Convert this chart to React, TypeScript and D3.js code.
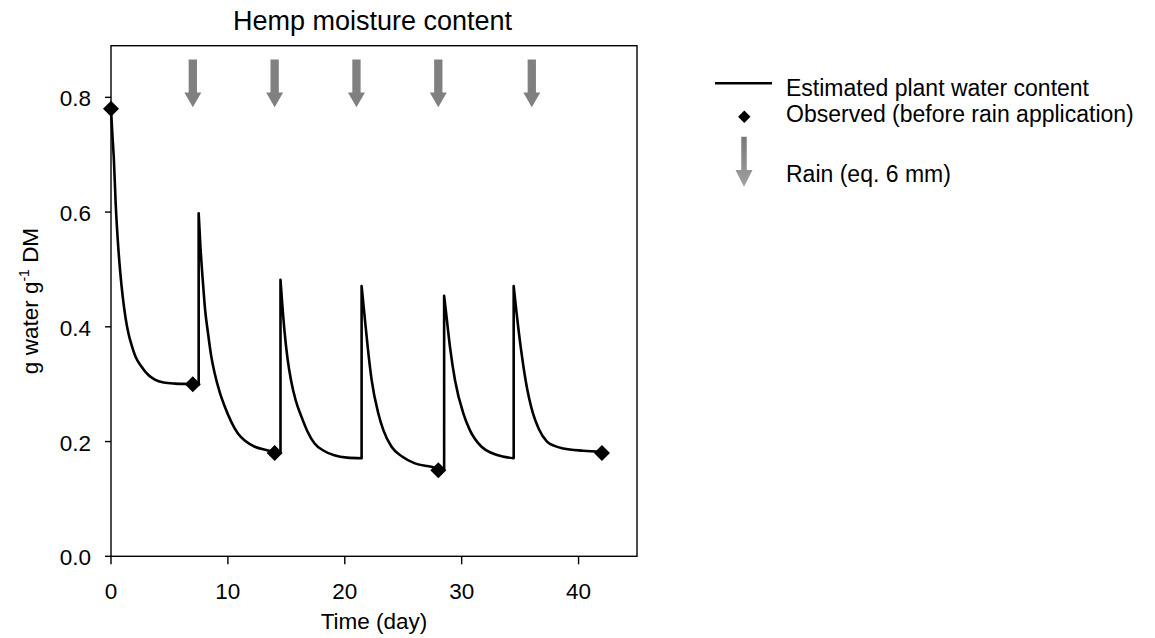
import React from "react";
import * as d3 from "d3";

const curveDays = [
  0, 0.1, 0.25, 0.4, 0.6, 0.8, 1.0, 1.25, 1.5, 1.75, 2.1, 2.6, 3.2, 3.75, 4.5, 5.5, 7.0, 7.5,
  7.5, 7.65, 7.87, 8.05, 8.3, 8.55, 8.87, 9.3, 9.73, 10.3, 10.86, 11.5, 12.3, 13.1, 14.0, 14.5,
  14.5, 14.65, 14.86, 15.1, 15.4, 15.8, 16.3, 16.8, 17.4, 18.2, 19.1, 20.2, 21.44,
  21.44, 21.67, 21.96, 22.3, 22.87, 23.3, 24.0, 24.9, 26.0, 27.4, 28.0, 28.5,
  28.5, 28.72, 29.0, 29.43, 30.14, 30.7, 31.7, 32.57, 33.5, 34.45,
  34.45, 34.7, 35.05, 35.47, 36.1, 36.6, 37.3, 38.0, 38.7, 40.4, 42.0];
const curveValues = [
  0.78, 0.742, 0.69, 0.615, 0.545, 0.493, 0.453, 0.415, 0.388, 0.369, 0.348, 0.331, 0.316, 0.308, 0.303, 0.301, 0.300, 0.299,
  0.598, 0.54, 0.476, 0.43, 0.389, 0.352, 0.319, 0.286, 0.261, 0.234, 0.214, 0.201, 0.191, 0.186, 0.182, 0.181,
  0.482, 0.44, 0.389, 0.345, 0.307, 0.272, 0.243, 0.218, 0.197, 0.184, 0.176, 0.172, 0.171,
  0.471, 0.424, 0.365, 0.307, 0.249, 0.220, 0.191, 0.174, 0.162, 0.156, 0.153, 0.152,
  0.454, 0.415, 0.365, 0.307, 0.249, 0.220, 0.191, 0.180, 0.174, 0.171,
  0.471, 0.424, 0.365, 0.307, 0.249, 0.222, 0.200, 0.192, 0.188, 0.184, 0.182];

const obsDays = [0, 7, 14, 28, 42];
const obsValues = [0.78, 0.30, 0.18, 0.15, 0.18];

const rainDays = [7, 14, 21, 28, 36];

const xTicks = [0, 10, 20, 30, 40];
const yTicks = [0, 0.2, 0.4, 0.6, 0.8];

const FONT = "'Liberation Sans', Arial, Helvetica, sans-serif";

export default function App() {
  const W = 1155, H = 638;
  const x = d3.scaleLinear().domain([0, 45]).range([111, 637]);
  const y = d3.scaleLinear().domain([0, 0.89]).range([556.3, 45.7]);

  // split curve into continuous segments at repeated days (vertical jumps)
  const segments: [number, number][][] = [];
  let cur: [number, number][] = [];
  curveDays.forEach((d, i) => {
    if (i > 0 && d === curveDays[i - 1]) {
      segments.push(cur);
      cur = [];
    }
    cur.push([d, curveValues[i]]);
  });
  segments.push(cur);
  const line = d3.line<[number, number]>()
    .x((p) => x(p[0]))
    .y((p) => y(p[1]))
    .curve(d3.curveMonotoneX);
  const pathD = segments
    .map((s, i) => {
      const p = line(s) || "";
      return i === 0 ? p : "L" + p.slice(1);
    })
    .join("");

  const diamond = (cx: number, cy: number, r: number) =>
    `M${cx},${cy - r}L${cx + r},${cy}L${cx},${cy + r}L${cx - r},${cy}Z`;

  const arrow = (cx: number, top: number, headStart: number, tip: number, shaftW: number, headW: number) =>
    `M${cx - shaftW / 2},${top}L${cx + shaftW / 2},${top}L${cx + shaftW / 2},${headStart}L${cx + headW / 2},${headStart}L${cx},${tip}L${cx - headW / 2},${headStart}L${cx - shaftW / 2},${headStart}Z`;

  return (
    <svg width={W} height={H} style={{ position: "absolute", left: 0, top: 0, background: "#fff" }}
      fontFamily={FONT}>
      <rect x={0} y={0} width={W} height={H} fill="#fff" />
      <text x={372.5} y={30} fontSize={27} textAnchor="middle" fill="#000">Hemp moisture content</text>

      {/* frame */}
      <rect x={x(0)} y={y(0.89)} width={x(45) - x(0)} height={y(0) - y(0.89)} fill="none" stroke="#000" strokeWidth={1.4} />

      {/* y ticks */}
      {yTicks.map((t) => (
        <g key={"y" + t}>
          <line x1={x(0) - 6} x2={x(0)} y1={y(t)} y2={y(t)} stroke="#000" strokeWidth={1.4} />
          <text x={91} y={y(t) + 9} fontSize={22.5} textAnchor="end" fill="#000">{t.toFixed(1)}</text>
        </g>
      ))}
      {/* x ticks */}
      {xTicks.map((t) => (
        <g key={"x" + t}>
          <line x1={x(t)} x2={x(t)} y1={y(0)} y2={y(0) + 8} stroke="#000" strokeWidth={1.4} />
          <text x={x(t)} y={599} fontSize={22.5} textAnchor="middle" fill="#000">{t}</text>
        </g>
      ))}
      <text x={374} y={629} fontSize={22.5} textAnchor="middle" fill="#000">Time (day)</text>
      <text transform={`translate(38,301) rotate(-90)`} fontSize={22.5} textAnchor="middle" fill="#000">
        g water g<tspan fontSize={14} dy={-9}>-1</tspan><tspan dy={9}> DM</tspan>
      </text>

      {/* rain arrows */}
      {rainDays.map((d) => (
        <path key={"r" + d} d={arrow(x(d), 59.5, 92.5, 107.3, 8.3, 17)} fill="#808080" />
      ))}

      {/* curve */}
      <path d={pathD} fill="none" stroke="#000" strokeWidth={2.6} strokeLinejoin="round" />

      {/* observed */}
      {obsDays.map((d, i) => (
        <path key={"o" + d} d={diamond(x(d), y(obsValues[i]), 8)} fill="#000" />
      ))}

      {/* legend */}
      <line x1={715} x2={772} y1={83.3} y2={83.3} stroke="#000" strokeWidth={2.4} />
      <text x={786} y={96} fontSize={23} fill="#000">Estimated plant water content</text>
      <path d={diamond(744.3, 116.7, 6.2)} fill="#000" />
      <text x={786} y={121.7} fontSize={23} fill="#000">Observed (before rain application)</text>
      <defs>
        <linearGradient id="lg" x1="0" y1="0" x2="0" y2="1">
          <stop offset="0" stopColor="#7a7a7a" />
          <stop offset="1" stopColor="#a0a0a0" />
        </linearGradient>
      </defs>
      <path d={arrow(744, 136.7, 170, 186.7, 5.5, 17)} fill="url(#lg)" />
      <text x={786} y={181.7} fontSize={23} fill="#000">Rain (eq. 6 mm)</text>
    </svg>
  );
}
